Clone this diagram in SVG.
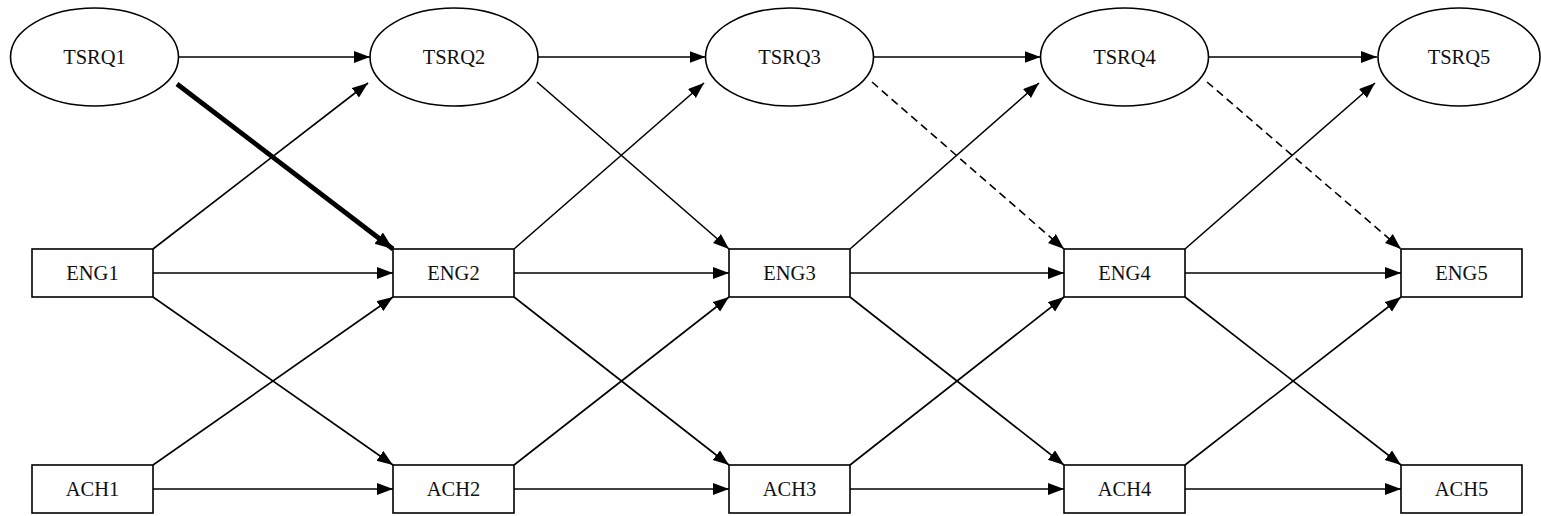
<svg xmlns="http://www.w3.org/2000/svg" width="1541" height="516" viewBox="0 0 1541 516">
  <style>
    .node ellipse, .node rect { fill: #fff; stroke: #000; stroke-width: 1.6; }
    .node text { font-family: "Liberation Serif", "Times New Roman", serif; font-size: 20.5px; fill: #111; text-anchor: middle; dominant-baseline: central; }
    .edge { stroke: #000; stroke-width: 1.6; fill: none; marker-end: url(#arrow); }
    .bold { stroke-width: 4.8; marker-end: url(#arrowBold); }
    .dash { stroke-dasharray: 8 5; }
  </style>
  <defs>
    <marker id="arrow" markerUnits="userSpaceOnUse" markerWidth="17" markerHeight="13" refX="16" refY="6" orient="auto">
      <path d="M0,0 L16,6 L0,12 z" fill="#000"/>
    </marker>
    <marker id="arrowBold" markerUnits="userSpaceOnUse" markerWidth="21" markerHeight="15" refX="18" refY="7" orient="auto">
      <path d="M0,0 L18,7 L0,14 z" fill="#000"/>
    </marker>
  </defs>

  <rect width="1541" height="516" fill="#fff"/>

  <g id="connectors">
    <!-- TSRQ chain -->
    <line class="edge" x1="178.5" y1="57" x2="370" y2="57"/>
    <line class="edge" x1="538" y1="57" x2="705.5" y2="57"/>
    <line class="edge" x1="873.5" y1="57" x2="1040.5" y2="57"/>
    <line class="edge" x1="1208.5" y1="57" x2="1377" y2="57"/>
    <!-- ENG -> next TSRQ -->
    <line class="edge" x1="153" y1="249" x2="368" y2="83"/>
    <line class="edge" x1="514" y1="249" x2="704" y2="83"/>
    <line class="edge" x1="850" y1="249" x2="1039" y2="83"/>
    <line class="edge" x1="1185" y1="249" x2="1375" y2="83"/>
    <!-- TSRQ -> next ENG -->
    <line class="edge bold" x1="177" y1="84" x2="393" y2="249"/>
    <line class="edge" x1="537" y1="82" x2="729" y2="249"/>
    <line class="edge dash" x1="872" y1="82" x2="1064" y2="249"/>
    <line class="edge dash" x1="1207" y1="82" x2="1401" y2="249"/>
    <!-- ENG chain -->
    <line class="edge" x1="153" y1="273" x2="393" y2="273"/>
    <line class="edge" x1="514" y1="273" x2="729" y2="273"/>
    <line class="edge" x1="850" y1="273" x2="1064" y2="273"/>
    <line class="edge" x1="1185" y1="273" x2="1401" y2="273"/>
    <!-- ENG -> next ACH -->
    <line class="edge" x1="153" y1="297" x2="393" y2="465"/>
    <line class="edge" x1="514" y1="297" x2="729" y2="465"/>
    <line class="edge" x1="850" y1="297" x2="1064" y2="465"/>
    <line class="edge" x1="1185" y1="297" x2="1401" y2="465"/>
    <!-- ACH -> next ENG -->
    <line class="edge" x1="153" y1="465" x2="393" y2="297"/>
    <line class="edge" x1="514" y1="465" x2="729" y2="297"/>
    <line class="edge" x1="850" y1="465" x2="1064" y2="297"/>
    <line class="edge" x1="1185" y1="465" x2="1401" y2="297"/>
    <!-- ACH chain -->
    <line class="edge" x1="153" y1="489" x2="393" y2="489"/>
    <line class="edge" x1="514" y1="489" x2="729" y2="489"/>
    <line class="edge" x1="850" y1="489" x2="1064" y2="489"/>
    <line class="edge" x1="1185" y1="489" x2="1401" y2="489"/>
  </g>

  <g id="TSRQ1" class="node"><ellipse cx="94.5" cy="57" rx="84" ry="49"/><text x="94.5" y="57">TSRQ1</text></g>
  <g id="TSRQ2" class="node"><ellipse cx="454" cy="57" rx="84" ry="49"/><text x="454" y="57">TSRQ2</text></g>
  <g id="TSRQ3" class="node"><ellipse cx="789.5" cy="57" rx="84" ry="49"/><text x="789.5" y="57">TSRQ3</text></g>
  <g id="TSRQ4" class="node"><ellipse cx="1124.5" cy="57" rx="84" ry="49"/><text x="1124.5" y="57">TSRQ4</text></g>
  <g id="TSRQ5" class="node"><ellipse cx="1459" cy="57" rx="81" ry="49"/><text x="1459" y="57">TSRQ5</text></g>

  <g id="ENG1" class="node"><rect x="32" y="249" width="121" height="48"/><text x="92.5" y="273">ENG1</text></g>
  <g id="ENG2" class="node"><rect x="393" y="249" width="121" height="48"/><text x="453.5" y="273">ENG2</text></g>
  <g id="ENG3" class="node"><rect x="729" y="249" width="121" height="48"/><text x="789.5" y="273">ENG3</text></g>
  <g id="ENG4" class="node"><rect x="1064" y="249" width="121" height="48"/><text x="1124.5" y="273">ENG4</text></g>
  <g id="ENG5" class="node"><rect x="1401" y="249" width="121" height="48"/><text x="1461.5" y="273">ENG5</text></g>

  <g id="ACH1" class="node"><rect x="32" y="465" width="121" height="48"/><text x="92.5" y="489">ACH1</text></g>
  <g id="ACH2" class="node"><rect x="393" y="465" width="121" height="48"/><text x="453.5" y="489">ACH2</text></g>
  <g id="ACH3" class="node"><rect x="729" y="465" width="121" height="48"/><text x="789.5" y="489">ACH3</text></g>
  <g id="ACH4" class="node"><rect x="1064" y="465" width="121" height="48"/><text x="1124.5" y="489">ACH4</text></g>
  <g id="ACH5" class="node"><rect x="1401" y="465" width="121" height="48"/><text x="1461.5" y="489">ACH5</text></g>
</svg>
